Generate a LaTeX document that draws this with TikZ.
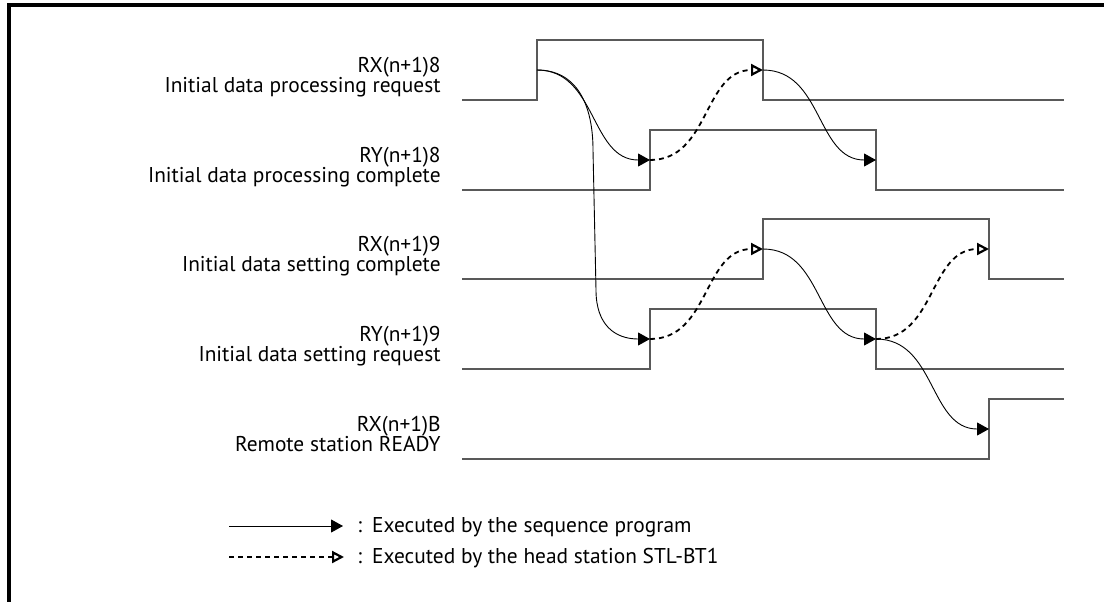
\documentclass[tikz,border=0pt]{standalone}
\usepackage{fontspec}
\setmainfont{PT Sans}
\usetikzlibrary{arrows.meta, positioning}

\begin{document}
\begin{tikzpicture}[
    x=0.5pt, y=-0.5pt,
    sig/.style={draw=black!65, line width=0.65pt},
    siglabel/.style={anchor=south east, align=right, inner sep=0pt, font=\fontsize{10.7}{10}\selectfont},
    prog/.style={-{Triangle[length=6pt, width=6.5pt]}, line width=0.45pt},
    head/.style={-{Triangle[open, length=6pt, width=6pt, line width=1.1pt]}, dash pattern=on 2.5pt off 2pt, line width=0.9pt},
    legtext/.style={anchor=base west, inner sep=0pt, font=\fontsize{10.7}{10}\selectfont},
    frame/.style={line width=1.6pt}
]
    \useasboundingbox (0,0) rectangle (1104,601);
    \draw [frame] (1110,5) -- (9,5) -- (9,610);

    % signal names
    \node (lx8) [siglabel] at (441,99) {RX(n+1)8\\Initial data processing request\strut};
    \node (ly8) [siglabel] at (441,189) {RY(n+1)8\\Initial data processing complete\strut};
    \node (lx9) [siglabel] at (441,278) {RX(n+1)9\\Initial data setting complete\strut};
    \node (ly9) [siglabel] at (441,368) {RY(n+1)9\\Initial data setting request\strut};
    \node (lxb) [siglabel] at (441,458) {RX(n+1)B\\Remote station READY\strut};

    % waveforms
    \draw [sig] (462,100) -- (537,100) -- (537,40) -- (763,40) -- (763,100) -- (1064,100);
    \draw [sig] (462,190) -- (650,190) -- (650,130) -- (876,130) -- (876,190) -- (1064,190);
    \draw [sig] (462,279) -- (763,279) -- (763,219) -- (989,219) -- (989,279) -- (1064,279);
    \draw [sig] (462,369) -- (650,369) -- (650,309) -- (876,309) -- (876,369) -- (1064,369);
    \draw [sig] (462,459) -- (989,459) -- (989,399) -- (1064,399);

    % edges
    \coordinate (x8on) at (537,70);
    \coordinate (x8off) at (763,70);
    \coordinate (y8on) at (650,160);
    \coordinate (y8off) at (876,160);
    \coordinate (x9on) at (763,249);
    \coordinate (x9off) at (989,249);
    \coordinate (y9on) at (650,339);
    \coordinate (y9off) at (876,339);
    \coordinate (xbon) at (989,429);

    \draw [prog] (x8on) .. controls +(60,0) and +(-60,0) .. (y8on);
    \draw [prog] (x8on) .. controls +(40,0) and +(0,-45) .. (593,150) -- (596,290) .. controls +(0,35) and +(-35,0) .. (y9on);
    \draw [head] (y8on) .. controls +(60,0) and +(-60,0) .. (x8off);
    \draw [prog] (x8off) .. controls +(60,0) and +(-60,0) .. (y8off);
    \draw [head] (y9on) .. controls +(60,0) and +(-60,0) .. (x9on);
    \draw [prog] (x9on) .. controls +(60,0) and +(-60,0) .. (y9off);
    \draw [head] (y9off) .. controls +(60,0) and +(-60,0) .. (x9off);
    \draw [prog] (y9off) .. controls +(60,0) and +(-60,0) .. (xbon);

    % legend
    \coordinate (seqa) at (229,526);
    \coordinate (seqb) at (343,526);
    \coordinate (heada) at (229,557);
    \coordinate (headb) at (344,557);
    \draw [prog] (seqa) -- (seqb);
    \draw [head] (heada) -- (headb);
    \node (legseq) [legtext] at (357,532) {:\hspace{5pt}Executed by the sequence program};
    \node (leghead) [legtext] at (357,563) {:\hspace{5pt}Executed by the head station STL-BT1};
\end{tikzpicture}
\end{document}
